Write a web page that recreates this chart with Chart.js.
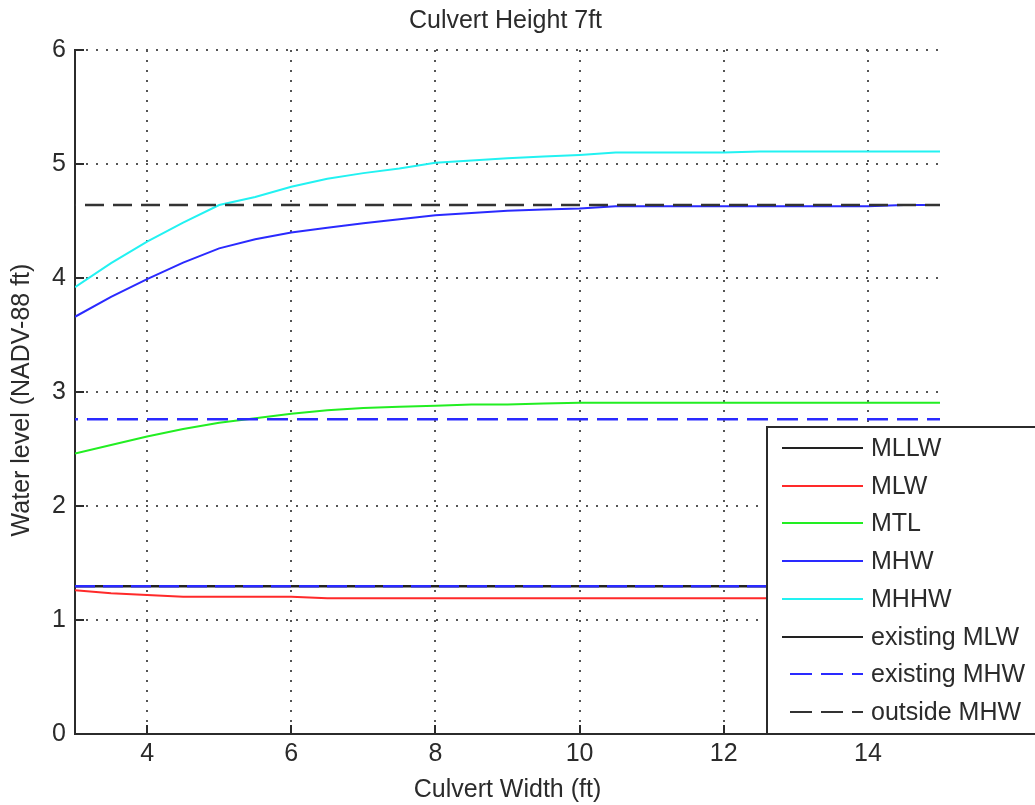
<!DOCTYPE html>
<html>
<head>
<meta charset="utf-8">
<script src="https://cdn.jsdelivr.net/npm/chart.js@4/dist/chart.umd.min.js"></script>
<style>
  html, body { margin: 0; padding: 0; background: #fff; }
  #wrap { width: 1035px; height: 805px; }
</style>
</head>
<body>
<div id="wrap"><canvas id="culvertChart"></canvas></div>
<script>
/* ---- data ---- */
const culvertWidth = [3, 3.5, 4, 4.5, 5, 5.5, 6, 6.5, 7, 7.5, 8, 8.5, 9, 9.5, 10, 10.5, 11, 11.5, 12, 12.5, 13, 13.5, 14, 14.5, 15];

const mlw  = [1.26, 1.235, 1.22, 1.205, 1.205, 1.205, 1.205, 1.19, 1.19, 1.19, 1.19, 1.19, 1.19, 1.19, 1.19, 1.19, 1.19, 1.19, 1.19, 1.19, 1.19, 1.19, 1.19, 1.19, 1.19];
const mtl  = [2.46, 2.535, 2.61, 2.675, 2.73, 2.77, 2.81, 2.84, 2.86, 2.87, 2.88, 2.89, 2.89, 2.90, 2.905, 2.905, 2.905, 2.905, 2.905, 2.905, 2.905, 2.905, 2.905, 2.905, 2.905];
const mhw  = [3.66, 3.835, 3.99, 4.135, 4.26, 4.34, 4.40, 4.44, 4.48, 4.515, 4.55, 4.57, 4.59, 4.60, 4.61, 4.63, 4.63, 4.63, 4.63, 4.63, 4.63, 4.63, 4.63, 4.64, 4.64];
const mhhw = [3.92, 4.13, 4.32, 4.485, 4.64, 4.71, 4.80, 4.87, 4.92, 4.96, 5.01, 5.03, 5.05, 5.065, 5.08, 5.10, 5.10, 5.10, 5.10, 5.11, 5.11, 5.11, 5.11, 5.11, 5.11];

const existingMlw  = 1.295;   // solid black, under a blue dashed trace
const existingLowTrace = 1.295;
const existingMhw  = 2.76;
const outsideMhw   = 4.64;

const xTicks = [4, 6, 8, 10, 12, 14];
const yTicks = [0, 1, 2, 3, 4, 5, 6];

const legendNames = ['MLLW', 'MLW', 'MTL', 'MHW', 'MHHW', 'existing MLW', 'existing MHW', 'outside MHW'];
const legendColors = ['#222', '#ff2a2a', '#22ee22', '#2a2aff', '#22f2f2', '#222', '#2a2aff', '#333'];
const legendDashed = [false, false, false, false, false, false, true, true];

const FONT = "'Liberation Sans', Arial, sans-serif";
const INK  = '#2b2b2b';

const pts   = (ys) => culvertWidth.map((x, i) => ({ x: x, y: ys[i] }));
const level = (v)  => culvertWidth.map(x => ({ x: x, y: v }));

function lineSet(label, data, color, opts) {
  return Object.assign({
    label: label,
    data: data,
    borderColor: color,
    backgroundColor: color,
    borderWidth: 2,
    pointRadius: 0,
    fill: false,
    tension: 0
  }, opts || {});
}

/* ---- titles, inward ticks and the boxed legend ---- */
const matlabDecor = {
  id: 'matlabDecor',
  afterDatasetsDraw(chart) {
    const ctx = chart.ctx, a = chart.chartArea;
    const xs = chart.scales.x, ys = chart.scales.y;
    ctx.save();
    // inward tick marks
    ctx.strokeStyle = INK;
    ctx.lineWidth = 2;
    ctx.beginPath();
    xTicks.forEach(v => { const px = Math.round(xs.getPixelForValue(v)); ctx.moveTo(px, a.bottom); ctx.lineTo(px, a.bottom - 9); });
    yTicks.forEach(v => { const py = Math.round(ys.getPixelForValue(v)); ctx.moveTo(a.left, py); ctx.lineTo(a.left + 9, py); });
    ctx.stroke();

    // legend box (runs off the right edge, like the original)
    const lx = a.right - 173, ly = 427, lb = a.bottom;
    ctx.fillStyle = '#fff';
    ctx.fillRect(lx, ly, chart.width - lx + 10, lb - ly);
    ctx.strokeStyle = INK;
    ctx.lineWidth = 2;
    ctx.strokeRect(lx, ly, chart.width - lx + 10, lb - ly);
    ctx.font = '25px ' + FONT;
    ctx.textBaseline = 'middle';
    ctx.textAlign = 'left';
    legendNames.forEach((name, i) => {
      const y = Math.round(ly + 21 + i * 37.7);
      ctx.strokeStyle = legendColors[i];
      ctx.lineWidth = 2;
      ctx.setLineDash(legendDashed[i] ? [22, 9] : []);
      ctx.lineDashOffset = legendDashed[i] ? -8 : 0;
      ctx.beginPath();
      ctx.moveTo(lx + 15, y);
      ctx.lineTo(lx + 96, y);
      ctx.stroke();
      ctx.setLineDash([]);
      ctx.fillStyle = INK;
      ctx.fillText(name, lx + 104, y + 1);
    });

    // title and axis titles
    const cx = (a.left + a.right) / 2;
    ctx.fillStyle = INK;
    ctx.textAlign = 'center';
    ctx.fillText('Culvert Height 7ft', cx - 2, 21);
    ctx.fillText('Culvert Width (ft)', cx, 790);
    ctx.translate(22, (a.top + a.bottom) / 2 + 8);
    ctx.rotate(-Math.PI / 2);
    ctx.fillText('Water level (NADV-88 ft)', 0, 0);
    ctx.restore();
  }
};

const culvertChart = new Chart(document.getElementById('culvertChart'), {
  type: 'line',
  data: {
    datasets: [
      lineSet('existing low trace', level(existingLowTrace), '#2a2aff', { borderWidth: 2.5, borderDash: [20, 8], order: 0 }),
      lineSet('existing MHW', level(existingMhw), '#2a2aff', { borderWidth: 2.5, borderDash: [21, 9], borderDashOffset: -12, order: 0 }),
      lineSet('outside MHW', level(outsideMhw), '#333', { borderWidth: 2.5, borderDash: [19, 9], borderDashOffset: -10, order: 0 }),
      lineSet('existing MLW', level(existingMlw), '#222', { borderWidth: 2.5, order: 1 }),
      lineSet('MLW',  pts(mlw),  '#ff2a2a', { order: 2 }),
      lineSet('MTL',  pts(mtl),  '#22ee22', { order: 2 }),
      lineSet('MHW',  pts(mhw),  '#2a2aff', { order: 2 }),
      lineSet('MHHW', pts(mhhw), '#22f2f2', { order: 2 })
    ]
  },
  options: {
    responsive: true,
    maintainAspectRatio: false,
    animation: false,
    events: [],
    layout: { padding: { left: 0, right: 95, top: 50, bottom: 0 } },
    plugins: {
      legend:  { display: false },
      title:   { display: false },
      tooltip: { enabled: false }
    },
    scales: {
      x: {
        type: 'linear',
        min: 3,
        max: 15,
        afterBuildTicks: (s) => { s.ticks = xTicks.map(v => ({ value: v })); },
        afterFit: (s) => { s.height = 71; },
        grid:   { color: '#555', lineWidth: 2, drawTicks: false },
        border: { display: true, color: INK, width: 2, dash: [2, 8] },
        ticks:  { color: INK, padding: 5, font: { family: FONT, size: 25 } }
      },
      y: {
        min: 0,
        max: 6,
        afterBuildTicks: (s) => { s.ticks = yTicks.map(v => ({ value: v })); },
        afterFit: (s) => { s.width = 75; },
        grid:   { color: (c) => c.tick && c.tick.value === 0 ? 'rgba(0,0,0,0)' : '#555', lineWidth: 2, drawTicks: false },
        border: { display: true, color: INK, width: 2, dash: [2, 8] },
        ticks:  { color: INK, padding: 9, font: { family: FONT, size: 25 } }
      }
    }
  },
  plugins: [matlabDecor]
});
</script>
</body>
</html>
